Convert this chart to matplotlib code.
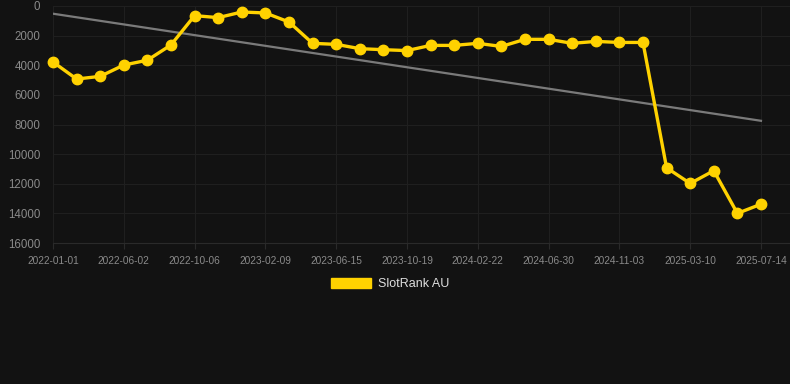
import matplotlib
matplotlib.use("Agg")
import matplotlib.pyplot as plt
from matplotlib.patches import Patch

dates = ["2022-01-01", "2022-02-12", "2022-04-21", "2022-06-02", "2022-07-14", "2022-08-25",
         "2022-10-06", "2022-11-17", "2022-12-29", "2023-02-09", "2023-03-23", "2023-05-04",
         "2023-06-15", "2023-07-27", "2023-09-07", "2023-10-19", "2023-11-30", "2024-01-11",
         "2024-02-22", "2024-04-04", "2024-05-19", "2024-06-30", "2024-08-11", "2024-09-22",
         "2024-11-03", "2024-12-15", "2025-01-27", "2025-03-10", "2025-04-21", "2025-06-02",
         "2025-07-14"]
rank_au = [3780, 4930, 4750, 3985, 3660, 2630, 650, 785, 405, 470, 1080, 2520,
           2590, 2880, 2950, 3010, 2660, 2660, 2520, 2730, 2250, 2250, 2520, 2390,
           2460, 2460, 10920, 11980, 11120, 14000, 13380]
trend_ends = [520, 7750]
yticks = [0, 2000, 4000, 6000, 8000, 10000, 12000, 14000, 16000]

BG = "#121212"
GOLD = "#FFD200"
plt.rcParams['font.family'] = ['Liberation Sans', 'DejaVu Sans']

fig = plt.figure(figsize=(7.9, 3.84), dpi=100, facecolor=BG)
ax = fig.add_axes([53/790, 1-243/384, 1-53/790, 237/384])
ax.set_facecolor(BG)

x = list(range(len(dates)))
ax.plot([x[0], x[-1]], trend_ends, color="#7a7a7a", lw=1.6, zorder=2)
ax.plot(x, rank_au, color=GOLD, lw=2.4, marker="o", markersize=7.5,
        markerfacecolor=GOLD, markeredgecolor=GOLD, zorder=3, clip_on=False)

ax.set_xlim(0, 31.23)
ax.set_ylim(16000, 0)
ax.set_yticks(yticks)
ax.set_yticklabels([str(v) for v in yticks])
tick_idx = list(range(0, len(dates), 3))
ax.set_xticks(tick_idx)
ax.set_xticklabels([dates[i] for i in tick_idx])

ax.grid(True, color="#1f1f1f", lw=0.8)
ax.set_axisbelow(True)
for s in ["top", "right", "left"]:
    ax.spines[s].set_visible(False)
ax.spines["bottom"].set_color("#2a2a2a")
ax.tick_params(axis="y", length=0, pad=9, labelsize=8.3, labelcolor="#8a8a8a")
ax.tick_params(axis="x", length=4, color="#2a2a2a", pad=5, labelsize=7.3, labelcolor="#8a8a8a")

handle = Patch(facecolor=GOLD, edgecolor=GOLD, label="SlotRank AU")
fig.legend(handles=[handle], loc="center", bbox_to_anchor=(0.494, 1-284/384),
           frameon=False, fontsize=9, labelcolor="#dddddd",
           handlelength=3.2, handleheight=0.95, handletextpad=0.5)

fig.savefig("out.png", dpi=100, facecolor=BG)
